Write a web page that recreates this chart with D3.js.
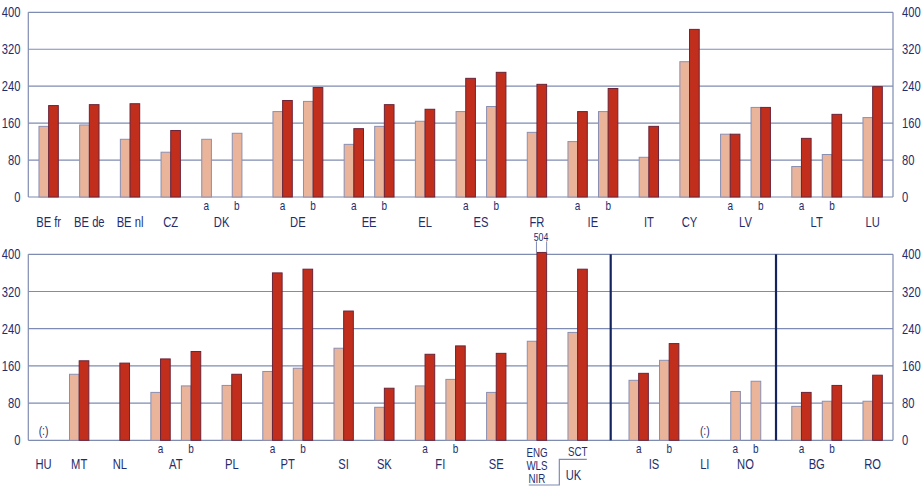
<!DOCTYPE html>
<html><head><meta charset="utf-8">
<script src="https://cdn.jsdelivr.net/npm/d3@7"></script>
<style>
html,body{margin:0;padding:0;background:#fff;}
text{font-family:"Liberation Sans Narrow","Liberation Sans","DejaVu Sans Condensed",sans-serif;fill:#1f2d6c;}
</style></head>
<body><svg id="c" width="922" height="486"></svg>
<script>
// ---------- DATA ----------
const yTicks = [0, 80, 160, 240, 320, 400];

const topGroups = ["BE fr","BE de","BE nl","CZ","DK","DK","DE","DE","EE","EE","EL","ES","ES","FR","IE","IE","IT","CY","LV","LV","LT","LT","LU"];
const topSubs   = ["","","","","a","b","a","b","a","b","","a","b","","a","b","","","a","b","a","b",""];
const topLight  = [153,156,125,97,125,138,185,207,114,153,164,185,196,140,120,185,86,293,136,194,66,92,172];
const topDark   = [198,200,202,144,null,null,209,237,148,200,190,257,270,244,185,235,153,363,136,194,127,179,239];

const botGroups = ["HU","MT","NL","AT","AT","PL","PT","PT","SI","SK","FI","FI","SE","UK","UK","IS","IS","LI","NO","NO","BG","BG","RO"];
const botSubs   = ["","","","a","b","","a","b","","","a","b","","ENG","SCT","a","b","","a","b","a","b",""];
const botLight  = [null,142,null,103,117,118,148,155,198,71,117,131,103,213,232,129,172,null,105,127,73,84,84];
const botDark   = [null,171,166,175,191,142,360,368,278,112,185,203,187,504,368,144,208,null,null,null,103,118,140];
const notAvailable = ["HU","LI"];   // shown as "(:)"

// ---------- STYLE / LAYOUT ----------
const C_LIGHT = "#e9b49a", C_DARK = "#c12f1c";
const C_GRID = "#7f8cb2", C_NAVY = "#14245f";
const svg = d3.select("#c");
const x = d3.scaleLinear().domain([0, 85]).range([28.3, 893]);

// condensed-looking text: real text, horizontally scaled
function label(parent, tx, ty, str, size, anchor, f) {
  return parent.append("text")
    .attr("transform", `translate(${tx},${ty}) scale(${f},1)`)
    .attr("text-anchor", anchor).attr("font-size", size).text(str);
}

function layout(groups, subs, narrow, extraGap) {
  let u = 1, prevEnd = null;
  return groups.map((g, i) => {
    const key = subs[i] ? g + " " + subs[i] : g;
    const w = narrow.has(key) ? 1 : 2;
    if (prevEnd !== null) {
      let gap = subs[i] === "b" ? 1 : 2;
      gap += (extraGap[key] || 0);
      u = prevEnd + gap;
    }
    prevEnd = u + w;
    return {u, w, key};
  });
}

function panel(opts) {
  const {groups, subs, light, dark, y0, y400, slots, subY, catY} = opts;
  const y = d3.scaleLinear().domain([0, 400]).range([y0, y400]);
  const g = svg.append("g");
  g.selectAll("line.grid").data(yTicks).join("line")
    .attr("x1", x(0)).attr("x2", x(85))
    .attr("y1", d => y(d)).attr("y2", d => y(d))
    .attr("stroke", C_GRID).attr("stroke-width", 1.2);
  [0, 85].forEach(v => g.append("line").attr("x1", x(v)).attr("x2", x(v))
    .attr("y1", y(0)).attr("y2", y(400)).attr("stroke", C_GRID).attr("stroke-width", 1.2));
  yTicks.forEach(t => {
    label(g, 20.5, y(t) + 5, t, 14, "end", 0.8);
    label(g, 902, y(t) + 5, t, 14, "start", 0.8);
  });
  const bw = x(1) - x(0);
  const cap = 404;
  slots.forEach((s, i) => {
    if (light[i] != null) {
      g.append("rect").attr("x", x(s.u) + 0.5).attr("y", y(light[i]))
        .attr("width", bw - 0.5).attr("height", y(0) - y(light[i]))
        .attr("fill", C_LIGHT).attr("stroke", "#8a8fb2").attr("stroke-width", 1);
    }
    if (dark[i] != null) {
      const v = Math.min(dark[i], cap);
      g.append("rect").attr("x", x(s.u + 1)).attr("y", y(v))
        .attr("width", bw - 0.5).attr("height", y(0) - y(v))
        .attr("fill", C_DARK).attr("stroke", "#6b2438").attr("stroke-width", 1);
      if (dark[i] > cap) {
        const xl = x(s.u + 1), xr = x(s.u + 2);
        label(g, (xl + xr) / 2 - 1, y(v) - 11.5, dark[i], 11, "middle", 0.8);
        [xl - 0.5, xr - 0.5].forEach(xx => g.append("line").attr("x1", xx).attr("x2", xx)
          .attr("y1", y(v) - 11).attr("y2", y(v)).attr("stroke", C_GRID).attr("stroke-width", 1));
      }
    }
    const extW = dark[i] != null ? 2 : 1;
    if (subs[i] === "a" || subs[i] === "b") {
      label(g, x(s.u) + (x(s.u + extW) - x(s.u)) / 2, subY, subs[i], 12.5, "middle", 0.8);
    }
    if (notAvailable.includes(groups[i])) {
      label(g, x(s.u + 0.5), y(0) - 5, "(:)", 13, "middle", 0.8);
    }
  });
  const uniq = [...new Set(groups)].filter(d => d !== "UK");
  uniq.forEach(gname => {
    const idx = groups.map((d, i) => d === gname ? i : -1).filter(i => i >= 0);
    const first = slots[idx[0]], li = idx[idx.length - 1], last = slots[li];
    const endU = last.u + (dark[li] != null ? 2 : (light[li] != null || last.w === 1 ? 1 : 2));
    const cx = (x(first.u) + x(endU)) / 2;
    label(g, cx, catY, gname, 14, "middle", 0.8);
  });
  return {g, y};
}

const topSlots = layout(topGroups, topSubs, new Set(), {});
panel({groups: topGroups, subs: topSubs, light: topLight, dark: topDark,
  y0: 197, y400: 12.3, slots: topSlots, subY: 210, catY: 226.7});

const botSlots = layout(botGroups, botSubs, new Set(["HU","LI","NO a","NO b"]), {"IS a": 2, "BG a": 1});
const bot = panel({groups: botGroups, subs: botSubs, light: botLight, dark: botDark,
  y0: 440.3, y400: 254.3, slots: botSlots, subY: 453, catY: 469});

[57.25, 73.5].forEach(v => bot.g.append("line").attr("x1", x(v)).attr("x2", x(v))
  .attr("y1", bot.y(0)).attr("y2", bot.y(400)).attr("stroke", C_NAVY).attr("stroke-width", 2.2));

const iENG = botSubs.indexOf("ENG"), iSCT = botSubs.indexOf("SCT");
const eng = botSlots[iENG], sct = botSlots[iSCT];
const engC = x(eng.u + 1), sctC = x(sct.u + 1);
["ENG","WLS","NIR"].forEach((t, k) => label(bot.g, engC, 456.7 + k * 13, t, 12.5, "middle", 0.78));
label(bot.g, sctC, 456, "SCT", 12.5, "middle", 0.78);
const xm = x(eng.u + 2) + 0.6 * (x(sct.u) - x(eng.u + 2));
bot.g.append("path")
  .attr("d", `M${x(eng.u) + 2},485 H${xm} V459.3 H${x(sct.u + 2) - 1}`)
  .attr("fill", "none").attr("stroke", C_GRID).attr("stroke-width", 1.2);
label(bot.g, (xm + x(sct.u + 2)) / 2, 480, "UK", 14, "middle", 0.8);
</script></body></html>
